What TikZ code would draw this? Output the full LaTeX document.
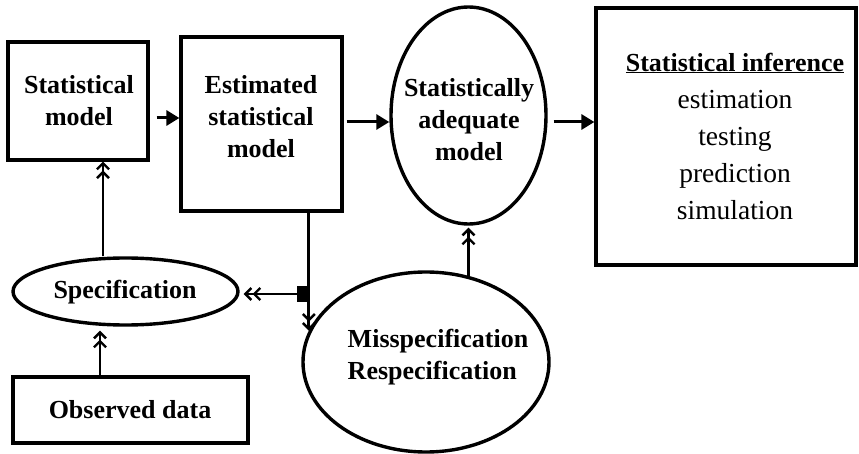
\documentclass[tikz,border=0pt]{standalone}
\usepackage{fontspec}
\setmainfont{Liberation Serif}
\usetikzlibrary{arrows.meta,shapes.geometric}
\begin{document}
\begin{tikzpicture}[x=1pt,y=-1pt,
 boxnode/.style={draw,line width=3.2pt,rectangle,inner sep=0pt},
 ellnode/.style={draw,line width=3.4pt,ellipse,inner sep=0pt},
 bt/.style={font=\fontsize{26}{32}\selectfont\bfseries,align=center,inner sep=0pt},
 rt/.style={font=\fontsize{27.5}{37}\selectfont,align=center,inner sep=0pt},
 tri/.style={line width=3pt,-{Triangle[length=13pt,width=15pt]}},
 dbl/.style={line width=2.8pt,-{Straight Barb[length=6pt,width=12pt,line width=2.4pt]Straight Barb[length=6pt,width=12pt,line width=2.4pt]}}]
\useasboundingbox (0,0) rectangle (859,454);

% boxes
\node[boxnode,minimum width=140pt,minimum height=118pt] (sm) at (78,101) {};
\node[bt] (smtxt) at (79,101) {Statistical\\model};
\node[boxnode,minimum width=161pt,minimum height=174pt] (est) at (261.5,124) {};
\node[bt] (esttxt) at (261,117) {Estimated\\statistical\\model};
\node[ellnode,minimum width=155pt,minimum height=217pt] (ade) at (468.5,115.5) {};
\node[bt] (adetxt) at (469,120) {Statistically\\adequate\\model};
\node[boxnode,minimum width=260pt,minimum height=257pt] (inf) at (726,136.5) {};
\node[rt] (inftxt) at (735,136) {{\fontsize{26}{32}\selectfont\bfseries\underline{Statistical inference}}\\estimation\\testing\\prediction\\simulation};
\node[ellnode,minimum width=225pt,minimum height=67pt] (spec) at (125.5,291.5) {};
\node[bt] (spectxt) at (125,292) {Specification};
\node[boxnode,minimum width=235pt,minimum height=66pt] (obs) at (130.5,410) {};
\node[bt] (obstxt) at (130,410) {Observed data};
\node[ellnode,minimum width=246pt,minimum height=180pt] (mis) at (426,362) {};
\node[bt,align=left] (mistxt) at (438,357) {Misspecification\\Respecification};
\node[fill=black,inner sep=0pt,minimum width=13pt,minimum height=16pt] (sq) at (303.5,294) {};

% connectors
\draw[tri] ([xshift=7pt,yshift=-17pt]sm.east) -- ([yshift=-17pt]sm.east -| est.west);
\draw[tri] ([xshift=3pt,yshift=2pt]est.east) -- ([yshift=2pt]est.east -| ade.west);
\draw[tri] ([xshift=6pt,yshift=2pt]est.east -| ade.east) -- ([yshift=2pt]est.east -| inf.west);
\draw[dbl] ([xshift=-22.5pt]spec.north) -- ([xshift=-22.5pt]spec.north |- sm.south);
\draw[dbl,shorten >=4pt] ([xshift=-30.5pt]obs.north) -- ([xshift=-30.5pt]obs.north |- spec.south);
\draw[dbl,shorten >=2pt] (ade.south |- mis.64) -- (ade.south);
\draw[dbl] (mis.165.5 |- est.south) -- (mis.165.5);
\draw[dbl,shorten >=4pt] (sq.west) -- (sq.west -| spec.east);
\end{tikzpicture}
\end{document}
